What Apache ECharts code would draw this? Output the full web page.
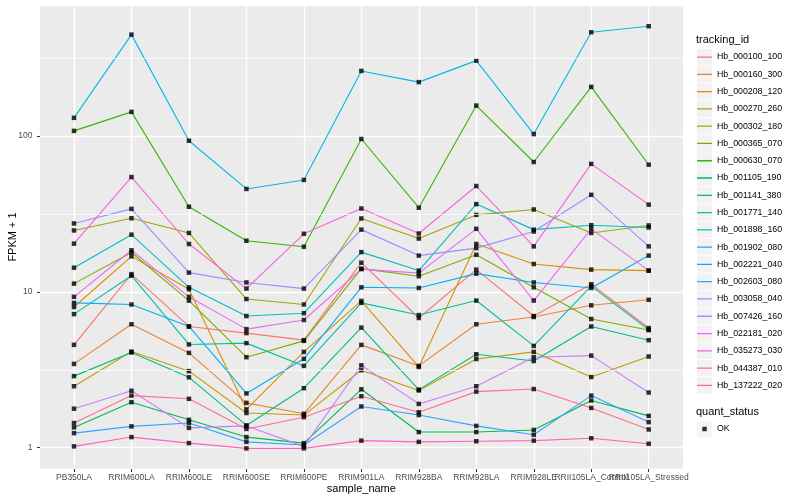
<!DOCTYPE html>
<html><head><meta charset="utf-8">
<script src="https://cdn.jsdelivr.net/npm/echarts@6/dist/echarts.min.js"></script>
<style>html,body{margin:0;padding:0;background:#fff}#c{width:800px;height:500px}</style>
</head><body><div id="c"></div>
<script>
const categories = ['PB350LA','RRIM600LA','RRIM600LE','RRIM600SE','RRIM600PE','RRIM901LA','RRIM928BA','RRIM928LA','RRIM928LE','RRII105LA_Control','RRII105LA_Stressed'];
const trackingIds = ['Hb_000100_100','Hb_000160_300','Hb_000208_120','Hb_000270_260','Hb_000302_180','Hb_000365_070','Hb_000630_070','Hb_001105_190','Hb_001141_380','Hb_001771_140','Hb_001898_160','Hb_001902_080','Hb_002221_040','Hb_002603_080','Hb_003058_040','Hb_007426_160','Hb_022181_020','Hb_035273_030','Hb_044387_010','Hb_137222_020'];
const colors = ['#F8766D','#EA8331','#D89000','#C09B00','#A3A500','#7CAE00','#39B600','#00BB4E','#00BF7D','#00C1A3','#00BFC4','#00BAE0','#00B0F6','#35A2FF','#9590FF','#C77CFF','#E76BF3','#FA62DB','#FF62BC','#FF6C91'];

const Hb_000100_100 = [4.57, 13.0, 6.0, 5.44, 4.9, 15.4, 6.8, 13.9, 7.0, 11.2, 5.86];
const Hb_000160_300 = [3.45, 6.2, 4.06, 1.94, 1.65, 4.57, 3.35, 6.2, 6.9, 8.2, 8.9];
const Hb_000208_120 = [8.0, 16.9, 10.4, 1.76, 4.12, 8.75, 3.3, 20.3, 15.1, 13.9, 13.7];
const Hb_000270_260 = [2.48, 4.14, 3.1, 1.67, 1.62, 3.14, 2.33, 3.71, 4.12, 2.84, 3.85];
const Hb_000302_180 = [24.8, 29.7, 23.9, 9.0, 8.3, 29.6, 22.0, 31.2, 33.8, 23.9, 26.7];
const Hb_000365_070 = [11.3, 17.9, 8.8, 3.81, 4.85, 14.1, 12.6, 17.3, 10.7, 6.7, 5.7];
const Hb_000630_070 = [108, 143, 35.2, 21.3, 19.5, 95.8, 34.7, 157, 68.2, 207, 65.5];
const Hb_001105_190 = [1.35, 1.96, 1.51, 1.17, 1.07, 2.37, 1.26, 1.26, 1.3, 2.01, 1.6];
const Hb_001141_380 = [2.88, 4.08, 2.83, 1.39, 2.41, 5.9, 2.36, 3.98, 3.6, 6.0, 4.9];
const Hb_001771_140 = [7.2, 12.7, 4.6, 4.69, 3.35, 8.5, 7.1, 8.8, 4.5, 10.9, 5.7];
const Hb_001898_160 = [14.3, 23.3, 10.7, 7.0, 7.3, 18.0, 13.7, 36.6, 25.1, 26.8, 25.9];
const Hb_001902_080 = [131, 448, 93.4, 45.8, 52.3, 262, 222, 305, 103, 464, 507];
const Hb_002221_040 = [8.5, 8.3, 6.0, 2.23, 3.72, 10.7, 10.6, 13.1, 11.5, 10.6, 17.1];
const Hb_002603_080 = [1.24, 1.37, 1.44, 1.09, 1.04, 1.84, 1.62, 1.38, 1.21, 2.16, 1.46];
const Hb_003058_040 = [27.5, 34.1, 13.3, 11.5, 10.5, 25.1, 17.1, 19.1, 24.4, 42, 19.6];
const Hb_007426_160 = [1.78, 2.32, 1.34, 1.38, 1.02, 3.38, 1.91, 2.48, 3.81, 3.9, 2.26];
const Hb_022181_020 = [9.3, 18.5, 9.3, 5.77, 6.6, 14.0, 13.2, 25.4, 8.8, 25.4, 13.7];
const Hb_035273_030 = [20.4, 54.6, 20.3, 10.5, 23.6, 34.3, 23.7, 47.8, 19.6, 66.3, 36.3];
const Hb_044387_010 = [1.02, 1.17, 1.07, 0.99, 0.99, 1.11, 1.09, 1.1, 1.11, 1.15, 1.06];
const Hb_137222_020 = [1.44, 2.16, 2.06, 1.32, 1.57, 2.14, 1.69, 2.29, 2.38, 1.8, 1.31];

const seriesValues = [Hb_000100_100, Hb_000160_300, Hb_000208_120, Hb_000270_260, Hb_000302_180, Hb_000365_070, Hb_000630_070, Hb_001105_190, Hb_001141_380, Hb_001771_140, Hb_001898_160, Hb_001902_080, Hb_002221_040, Hb_002603_080, Hb_003058_040, Hb_007426_160, Hb_022181_020, Hb_035273_030, Hb_044387_010, Hb_137222_020];
const yMin = 0.73, yMax = 694;
const minorGridValues = [3.1623, 31.623, 316.23];
const statusName = 'OK';

const FONT = 'Liberation Sans, Arial, sans-serif';
const linePath = 'path://M0,0h0.01v0.01h-0.01z M0,7.6h15v1.3h-15z M14.99,16.49h0.01v0.01h-0.01z';
const squarePath = 'path://M0,0h0.01v0.01h-0.01z M5.25,6h4.5v4.5h-4.5z M14.99,16.49h0.01v0.01h-0.01z';

const lineSeries = trackingIds.map((id, i) => ({
  name: id, type: 'line', xAxisIndex: 1, yAxisIndex: 1,
  data: seriesValues[i], symbol: 'none', silent: true, z: 3,
  lineStyle: { color: colors[i], width: 1.1 }, itemStyle: { color: colors[i] }
}));
const pointData = [];
seriesValues.forEach(vals => vals.forEach((v, j) => pointData.push([j, v])));
const pointSeries = {
  name: statusName, type: 'scatter', xAxisIndex: 1, yAxisIndex: 1, data: pointData,
  symbol: 'rect', symbolSize: 4.5, itemStyle: { color: '#000' }, z: 4, silent: true
};
const gridSeries = {
  name: '_minor', type: 'line', xAxisIndex: 0, yAxisIndex: 0, data: [], z: 1,
  markLine: { silent: true, symbol: ['none', 'none'], label: { show: false }, animation: false,
    lineStyle: { color: '#fff', width: 0.7, type: 'solid' },
    data: minorGridValues.map(v => ({ yAxis: v })) }
};

const legendCommon = { orient: 'vertical', left: 697, itemWidth: 15, itemHeight: 16.5, itemGap: 0.78, padding: 0, selectedMode: false };

const chart = echarts.init(document.getElementById('c'));
chart.setOption({
  animation: false,
  backgroundColor: '#fff',
  textStyle: { fontFamily: FONT },
  title: [
    { text: 'tracking_id', left: 696, top: 34.5, padding: 0, textStyle: { fontSize: 11, fontWeight: 'normal', color: '#000', fontFamily: FONT } },
    { text: 'quant_status', left: 696, top: 406.5, padding: 0, textStyle: { fontSize: 11, fontWeight: 'normal', color: '#000', fontFamily: FONT } }
  ],
  legend: [
    Object.assign({}, legendCommon, { data: trackingIds, top: 48.8, icon: 'rect', itemStyle: { color: '#F2F2F2', borderWidth: 0, borderColor: 'transparent' }, textStyle: { color: 'rgba(0,0,0,0)', fontSize: 8.8, fontFamily: FONT } }),
    Object.assign({}, legendCommon, { data: trackingIds, top: 48.8, icon: linePath, itemStyle: { borderWidth: 0 }, textStyle: { color: '#000', fontSize: 8.8, fontFamily: FONT } }),
    Object.assign({}, legendCommon, { data: [statusName], top: 420.8, icon: 'rect', itemStyle: { color: '#F2F2F2', borderWidth: 0, borderColor: 'transparent' }, textStyle: { color: 'rgba(0,0,0,0)', fontSize: 8.8, fontFamily: FONT } }),
    Object.assign({}, legendCommon, { data: [statusName], top: 420.8, icon: squarePath, itemStyle: { borderWidth: 0 }, textStyle: { color: '#000', fontSize: 8.8, fontFamily: FONT } })
  ],
  grid: [
    { left: 40, right: 117, top: 5, bottom: 31, show: true, backgroundColor: '#EBEBEB', borderWidth: 0, containLabel: false, outerBoundsMode: 'none' },
    { left: 74, right: 151.3, top: 5, bottom: 31, show: false, containLabel: false, outerBoundsMode: 'none' }
  ],
  xAxis: [
    { gridIndex: 0, type: 'value', min: 0, max: 1, show: false },
    { gridIndex: 1, type: 'category', data: categories, boundaryGap: false,
      axisLine: { show: false },
      axisTick: { show: true, length: 3, lineStyle: { color: '#333', width: 1 } },
      axisLabel: { interval: 0, fontSize: 8.5, color: '#4D4D4D', margin: 4.5, fontFamily: FONT, hideOverlap: false },
      splitLine: { show: true, lineStyle: { color: '#fff', width: 1.4 } },
      name: 'sample_name', nameLocation: 'middle', nameGap: 14, nameMoveOverlap: false,
      nameTextStyle: { fontSize: 11, color: '#000', fontFamily: FONT } }
  ],
  yAxis: [
    { gridIndex: 0, type: 'log', logBase: 10, min: yMin, max: yMax,
      axisLine: { show: false },
      axisTick: { show: true, length: 3, lineStyle: { color: '#333', width: 1 } },
      axisLabel: { fontSize: 8.5, color: '#4D4D4D', margin: 7.5, showMinLabel: false, showMaxLabel: false, fontFamily: FONT },
      splitLine: { show: true, lineStyle: { color: '#fff', width: 1.4 } },
      name: 'FPKM + 1', nameLocation: 'middle', nameGap: 22, nameMoveOverlap: false,
      nameTextStyle: { fontSize: 11, color: '#000', fontFamily: FONT } },
    { gridIndex: 1, type: 'log', logBase: 10, min: yMin, max: yMax, show: false }
  ],
  series: [gridSeries].concat(lineSeries, [pointSeries])
});
</script>
</body></html>
